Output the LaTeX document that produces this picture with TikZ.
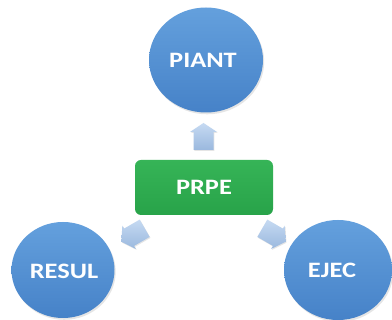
\documentclass[tikz,border=0pt]{standalone}
\usepackage{fontspec}
\setmainfont{Carlito}
\usetikzlibrary{shapes.geometric,shadows}
\definecolor{bluetop}{HTML}{64A0DD}
\definecolor{bluebot}{HTML}{4682C8}
\definecolor{greentop}{HTML}{36B457}
\definecolor{greenbot}{HTML}{28A349}
\definecolor{arrtop}{HTML}{C6DAF2}
\definecolor{arrbot}{HTML}{9AB8DE}
\newcommand\lbl[1]{\scalebox{1.2}[1]{\fontsize{22}{22}\selectfont\bfseries #1}}
\tikzset{
  bubble/.style={ellipse, draw=none, top color=bluetop, bottom color=bluebot,
    text=white, inner sep=0pt,
    drop shadow={opacity=0.2, shadow xshift=1.2pt, shadow yshift=-1.8pt}},
  greenbox/.style={rectangle, rounded corners=6pt, draw=none, top color=greentop,
    bottom color=greenbot, text=white, minimum width=138pt, minimum height=55pt,
    inner sep=0pt},
  blockarrow/.style={top color=arrtop, bottom color=arrbot,
    drop shadow={opacity=0.2, shadow xshift=0.8pt, shadow yshift=-1pt}}
}
\newcommand\blockarr[2]{%
  \begin{scope}[shift={#1}, rotate=#2]
    \path[blockarrow] (-13.5,-10) -- (4.5,-10) -- (4.5,-13.5) -- (13.5,0)
      -- (4.5,13.5) -- (4.5,10) -- (-13.5,10) -- cycle;
  \end{scope}}
\begin{document}
\begin{tikzpicture}[x=1pt,y=-1pt]
\fill[white] (0,0) rectangle (392,320);
\useasboundingbox (0,0) rectangle (392,320);
\node[bubble, minimum width=114pt, minimum height=105pt] (piant) at (206,60) {};
\node[text=white] (piantt) at (203,60) {\lbl{PIANT}};
\node[bubble, minimum width=103pt, minimum height=96pt] (resul) at (63,270) {};
\node[text=white] (result) at (64,271) {\lbl{RESUL}};
\node[bubble, minimum width=108pt, minimum height=100pt] (ejec) at (338,270) {};
\node[text=white] (eject) at (332,270) {\lbl{EJEC}};
\node[greenbox] (prpe) at (204,187.5) {\lbl{PRPE}};
\coordinate (aup) at (203.5,136.5);
\coordinate (aleft) at (133,235);
\coordinate (aright) at (274,235);
\blockarr{(aup)}{90}
\blockarr{(aleft)}{210}
\blockarr{(aright)}{-30}
\end{tikzpicture}
\end{document}
